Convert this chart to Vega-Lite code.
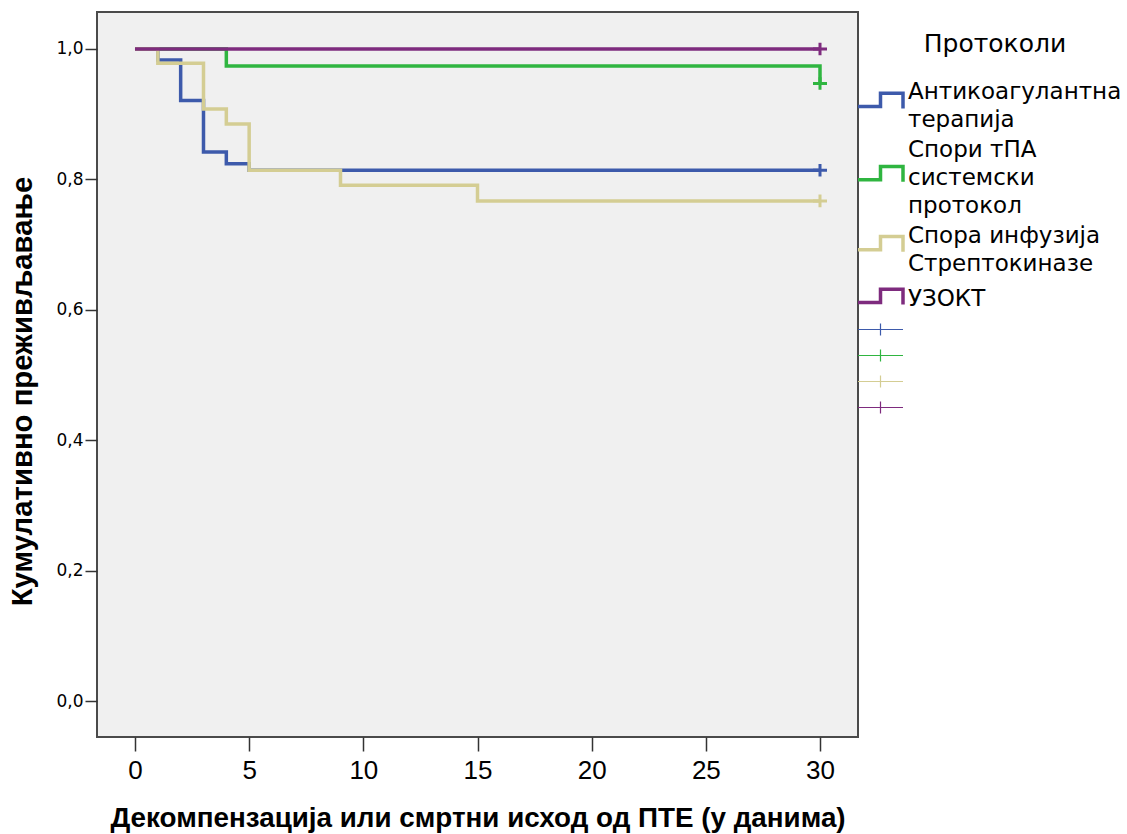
{
  "$schema": "https://vega.github.io/schema/vega-lite/v6.json",
  "width": 761,
  "height": 725,
  "autosize": {"type": "none"},
  "padding": {"left": 97, "top": 12, "right": 269, "bottom": 97},
  "background": "white",
  "config": {
    "view": {"fill": "#F0F0F0", "stroke": "#4a4a4a", "strokeWidth": 2},
    "axis": {"grid": false, "domain": false, "tickColor": "#333333", "tickWidth": 1.5, "labelColor": "#000000", "titleColor": "#000000"}
  },
  "datasets": {
    "curves": [
      {"key": "Антикоагулантна терапија", "time": 0, "surv": 1.0},
      {"key": "Антикоагулантна терапија", "time": 1, "surv": 0.983},
      {"key": "Антикоагулантна терапија", "time": 2, "surv": 0.921},
      {"key": "Антикоагулантна терапија", "time": 3, "surv": 0.842},
      {"key": "Антикоагулантна терапија", "time": 4, "surv": 0.824},
      {"key": "Антикоагулантна терапија", "time": 5, "surv": 0.814},
      {"key": "Антикоагулантна терапија", "time": 30, "surv": 0.814},
      {"key": "Спори тПА системски протокол", "time": 0, "surv": 1.0},
      {"key": "Спори тПА системски протокол", "time": 4, "surv": 0.974},
      {"key": "Спори тПА системски протокол", "time": 30, "surv": 0.947},
      {"key": "Спора инфузија Стрептокиназе", "time": 0, "surv": 1.0},
      {"key": "Спора инфузија Стрептокиназе", "time": 1, "surv": 0.978},
      {"key": "Спора инфузија Стрептокиназе", "time": 3, "surv": 0.908},
      {"key": "Спора инфузија Стрептокиназе", "time": 4, "surv": 0.885},
      {"key": "Спора инфузија Стрептокиназе", "time": 5, "surv": 0.814},
      {"key": "Спора инфузија Стрептокиназе", "time": 9, "surv": 0.791},
      {"key": "Спора инфузија Стрептокиназе", "time": 15, "surv": 0.767},
      {"key": "Спора инфузија Стрептокиназе", "time": 30, "surv": 0.767},
      {"key": "УЗОКТ", "time": 0, "surv": 1.0},
      {"key": "УЗОКТ", "time": 30, "surv": 1.0}
    ],
    "censors": [
      {"key": "c1", "time": 30, "surv": 0.814},
      {"key": "c2", "time": 30, "surv": 0.947},
      {"key": "c3", "time": 30, "surv": 0.767},
      {"key": "c4", "time": 30, "surv": 1.0}
    ]
  },
  "encoding": {
    "x": {
      "field": "time", "type": "quantitative",
      "scale": {"domain": [-1.664, 31.664], "nice": false, "zero": false},
      "axis": {
        "values": [0, 5, 10, 15, 20, 25, 30],
        "labelFont": "Liberation Sans", "labelFontSize": 26, "labelPadding": 6,
        "tickSize": 14,
        "title": "Декомпензација или смртни исход од ПТЕ (у данима)",
        "titleFont": "Liberation Sans", "titleFontSize": 27.8, "titleFontWeight": "bold", "titlePadding": 21
      }
    },
    "y": {
      "field": "surv", "type": "quantitative",
      "scale": {"domain": [-0.0552, 1.0567], "nice": false, "zero": false},
      "axis": {
        "values": [0, 0.2, 0.4, 0.6, 0.8, 1.0],
        "labelExpr": "replace(format(datum.value, '.1f'), '.', ',')",
        "labelFont": "DejaVu Sans", "labelFontSize": 17, "labelPadding": 2,
        "tickSize": 12,
        "title": "Кумулативно преживљавање",
        "titleFont": "Liberation Sans", "titleFontSize": 29.3, "titleFontWeight": "bold", "titlePadding": 18,
        "titleY": 379
      }
    },
    "color": {
      "field": "key", "type": "nominal",
      "scale": {
        "domain": ["Антикоагулантна терапија", "Спори тПА системски протокол", "Спора инфузија Стрептокиназе", "УЗОКТ", "c1", "c2", "c3", "c4"],
        "range": ["#3D5AAB", "#2FB540", "#D4CD93", "#7E2B7E", "#3D5AAB", "#2FB540", "#D4CD93", "#7E2B7E"]
      },
      "legend": {
        "orient": "none", "legendX": 772, "legendY": 20,
        "title": "Протоколи",
        "titleFont": "DejaVu Sans", "titleFontSize": 25, "titleFontWeight": "normal", "titleColor": "#000000",
        "titleAnchor": "middle", "titlePadding": 23,
        "labelFont": "DejaVu Sans", "labelFontSize": 8, "labelColor": "#000000", "labelLimit": 400, "labelOffset": 16,
        "symbolSize": 2025, "symbolStrokeWidth": 3.5, "rowPadding": 6,
        "labelExpr": "datum.value == 'Антикоагулантна терапија' ? ['Антикоагулантна', 'терапија'] : datum.value == 'Спори тПА системски протокол' ? ['Спори тПА', 'системски', 'протокол'] : datum.value == 'Спора инфузија Стрептокиназе' ? ['Спора инфузија', 'Стрептокиназе'] : datum.value == 'УЗОКТ' ? 'УЗОКТ' : ''",
        "encode": {
          "symbols": {
            "update": {
              "shape": {"signal": "datum.value == 'Антикоагулантна терапија' ? 'M-1,0.67H0V0.08H1V0.76' : datum.value == 'Спори тПА системски протокол' ? 'M-1,1.34H0V0.75H1V1.43' : datum.value == 'Спора инфузија Стрептокиназе' ? 'M-1,0.63H0V0.04H1V0.72' : datum.value == 'УЗОКТ' ? 'M-1,0.18H0V-0.41H1V0.27' : 'M-1,0H1M0,-0.27V0.27'"},
              "strokeWidth": {"signal": "indexof(['c1','c2','c3','c4'], datum.value) >= 0 ? 1.2 : 3.5"},
              "stroke": {"scale": "color", "field": "value"},
              "fill": {"value": "transparent"},
              "opacity": {"value": 1}
            }
          },
          "labels": {
            "update": {
              "lineHeight": {"value": 28},
              "fontSize": {"signal": "indexof(['c1','c2','c3','c4'], datum.value) >= 0 ? 1 : 23"}
            }
          }
        }
      }
    }
  },
  "layer": [
    {
      "data": {"name": "curves"},
      "mark": {"type": "line", "interpolate": "step-after", "strokeWidth": 3.5}
    },
    {
      "data": {"name": "censors"},
      "mark": {"type": "point", "shape": "M-1,0H1M0,-0.9V0.9", "size": 196, "filled": false, "strokeWidth": 3, "opacity": 1}
    }
  ]
}
